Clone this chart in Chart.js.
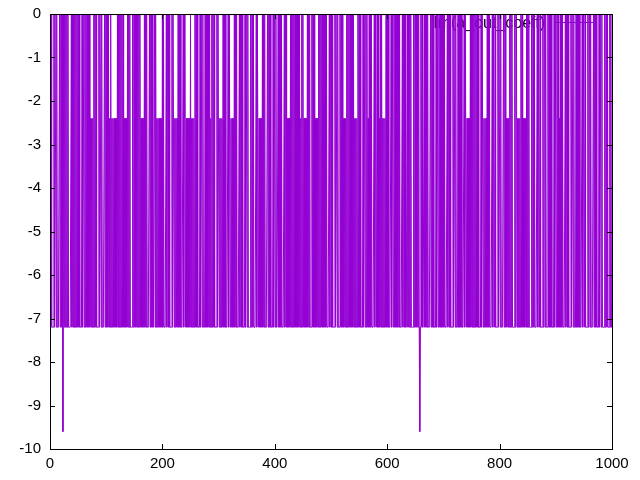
<!DOCTYPE html>
<html>
<head>
<meta charset="utf-8">
<script src="https://cdn.jsdelivr.net/npm/chart.js@4/dist/chart.umd.min.js"></script>
<style>
  html, body { margin: 0; padding: 0; background: #fff; }
  #wrap { width: 640px; height: 480px; }
</style>
</head>
<body>
<div id="wrap"><canvas id="plot" width="640" height="480"></canvas></div>
<script>
    // levels the signal takes, one digit per sample below
    const levelValues = [0, -2.4, -4.8, -7.2, -9.6];
    const samplePattern = [
        "0303333030 0303333030 0304030303 0303333303 0303030303 0303333030 0303030303 0313131303 0303333030 0303333030",
        "0303031303 1313131313 0303030303 0313131303 0303333030 0303030303 0313131303 0303333030 0303330303 1313131313",
        "0303333030 0303333030 0313131303 0303333030 1313131313 0313131303 0303333030 0303330303 0303031303 0303333030",
        "0313131303 0303333030 0313131303 0303333030 0303333030 0303333030 0303333030 0313131303 0303333030 0303333030",
        "0303330303 0303333030 0313131303 0303030303 0303031303 0313131303 0303330303 0313131303 0303030303 0303333030",
        "0303333030 0303330303 0313131303 0303030303 0313131303 0303333030 0303031303 0303333030 0303031303 0313131303",
        "0303333030 0303030303 0303333030 0303330303 0303333030 0303030343 0303330303 0303333030 0303333030 0303030303",
        "0303333030 0303333030 0303330303 0303333030 0313131303 0303030303 0303333030 0313131303 0303333030 0303333030",
        "0303333030 0313131303 0303333030 0313131303 0313131303 0303333030 0303333030 0303333030 0303330303 0303333030",
        "0303031303 0303333030 0303333030 0303330303 0303333030 0303333030 0303333030 0303333030 0303333030 0303330303",
        "3"
    ];
    const xTicks = [0, 200, 400, 600, 800, 1000];
    const yTicks = [0, -1, -2, -3, -4, -5, -6, -7, -8, -9, -10];
    const seriesName = "Im(a_out_coeff)";
    const lineColor = "#9400D3";

    const digits = samplePattern.join("").replace(/ /g, "");
    const points = [];
    for (let i = 0; i < digits.length; i++) {
        points.push({ x: i, y: levelValues[+digits[i]] });
    }

    const tickFont = { family: "'Liberation Sans', Arial, sans-serif", size: 15 };

    // gnuplot style frame: border plus inward ticks on all four sides, key drawn under the data
    const framePlugin = {
        id: 'frame',
        beforeDatasetsDraw(chart) {
            const ctx = chart.ctx;
            const a = chart.chartArea;
            ctx.save();
            ctx.font = "16px 'Liberation Sans', Arial, sans-serif";
            ctx.fillStyle = '#000';
            ctx.textAlign = 'right';
            ctx.textBaseline = 'middle';
            ctx.fillText(seriesName, a.right - 67, a.top + 10);
            ctx.strokeStyle = lineColor;
            ctx.lineWidth = 1;
            ctx.beginPath();
            ctx.moveTo(a.right - 57, a.top + 8.5);
            ctx.lineTo(a.right - 15, a.top + 8.5);
            ctx.stroke();
            ctx.restore();
        },
        afterDatasetsDraw(chart) {
            const ctx = chart.ctx;
            const a = chart.chartArea;
            const xs = chart.scales.x, ys = chart.scales.y;
            const len = 5;
            ctx.save();
            ctx.strokeStyle = '#000';
            ctx.lineWidth = 1;
            ctx.beginPath();
            xTicks.forEach(v => {
                const px = Math.round(xs.getPixelForValue(v)) + 0.5;
                ctx.moveTo(px, a.bottom); ctx.lineTo(px, a.bottom - len);
                ctx.moveTo(px, a.top); ctx.lineTo(px, a.top + len);
            });
            yTicks.forEach(v => {
                const py = Math.round(ys.getPixelForValue(v)) + 0.5;
                ctx.moveTo(a.left, py); ctx.lineTo(a.left + len, py);
                ctx.moveTo(a.right, py); ctx.lineTo(a.right - len, py);
            });
            ctx.stroke();
            ctx.strokeRect(Math.round(a.left) + 0.5, Math.round(a.top) + 0.5,
                Math.round(a.right - a.left), Math.round(a.bottom - a.top));
            ctx.restore();
        }
    };

    new Chart(document.getElementById('plot').getContext('2d'), {
        type: 'line',
        data: {
            datasets: [{
                label: seriesName,
                data: points,
                borderColor: lineColor,
                borderWidth: 1,
                pointRadius: 0,
                tension: 0,
                fill: false
            }]
        },
        options: {
            responsive: false,
            animation: false,
            parsing: false,
            normalized: true,
            layout: { padding: { top: 14, right: 28, left: 0, bottom: 0 } },
            plugins: {
                legend: { display: false },
                tooltip: { enabled: false }
            },
            scales: {
                x: {
                    type: 'linear',
                    min: 0,
                    max: 1000,
                    afterBuildTicks: s => { s.ticks = xTicks.map(v => ({ value: v })); },
                    afterFit: s => { s.height = 31; s.paddingLeft = 0; s.paddingRight = 0; },
                    grid: { display: false, drawTicks: false },
                    border: { display: false },
                    ticks: { color: '#000', font: tickFont, padding: 6, maxRotation: 0,
                             callback: v => String(v) }
                },
                y: {
                    type: 'linear',
                    min: -10,
                    max: 0,
                    afterBuildTicks: s => { s.ticks = yTicks.map(v => ({ value: v })); },
                    afterFit: s => { s.width = 50; s.paddingTop = 0; s.paddingBottom = 0; },
                    grid: { display: false, drawTicks: false },
                    border: { display: false },
                    ticks: { color: '#000', font: tickFont, padding: 9,
                             callback: v => String(v) }
                }
            }
        },
        plugins: [framePlugin]
    });
</script>
</body>
</html>
